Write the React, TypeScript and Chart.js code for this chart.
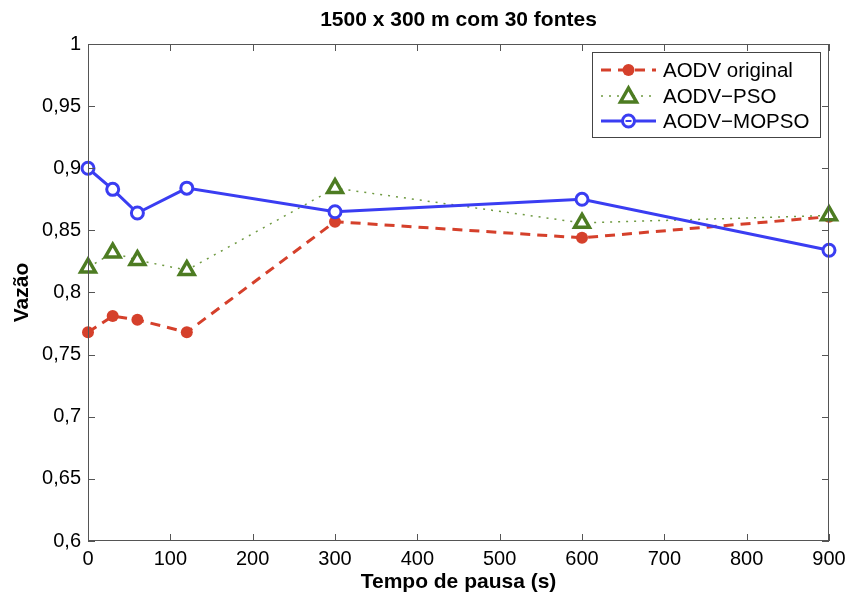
import React, { useEffect, useRef } from "react";
import { Chart, registerables } from "chart.js";

Chart.register(...registerables);

const chartTitle = "1500 x 300 m com 30 fontes";
const pauseTimes = [0, 30, 60, 120, 300, 600, 900];
const aodvOriginal = [0.768, 0.781, 0.778, 0.768, 0.857, 0.844, 0.861];
const aodvPso = [0.82, 0.832, 0.826, 0.818, 0.884, 0.856, 0.862];
const aodvMopso = [0.9, 0.883, 0.864, 0.884, 0.865, 0.875, 0.834];
const seriesNames = ["AODV original", "AODV\u2212PSO", "AODV\u2212MOPSO"];

const RED = "#d5402b";
const GREEN = "#4d7c22";
const GREEN_LINE = "#6f9a42";
const BLUE = "#3a3df2";
const FONT = "'Liberation Sans', Arial, Helvetica, sans-serif";

const toXY = (vals: number[]) => vals.map((v, i) => ({ x: pauseTimes[i], y: v }));

const framePlugin = {
  id: "frame",
  afterDraw(chart: any) {
    const { ctx, chartArea: a, scales } = chart;
    ctx.save();
    // title centred over the plot area
    ctx.fillStyle = "#000";
    ctx.font = `bold 21px ${FONT}`;
    ctx.textAlign = "center";
    ctx.textBaseline = "middle";
    ctx.fillText(chartTitle, (a.left + a.right) / 2, 20);

    ctx.strokeStyle = "#555";
    ctx.lineWidth = 1;
    ctx.strokeRect(a.left + 0.5, a.top + 0.5, a.right - a.left - 1, a.bottom - a.top - 1);
    const tl = 7;
    ctx.beginPath();
    scales.x.ticks.forEach((t: any) => {
      const px = Math.round(scales.x.getPixelForValue(t.value)) + 0.5;
      ctx.moveTo(px, a.bottom);
      ctx.lineTo(px, a.bottom - tl);
      ctx.moveTo(px, a.top);
      ctx.lineTo(px, a.top + tl);
    });
    scales.y.ticks.forEach((t: any) => {
      const py = Math.round(scales.y.getPixelForValue(t.value)) + 0.5;
      ctx.moveTo(a.left, py);
      ctx.lineTo(a.left + tl, py);
      ctx.moveTo(a.right, py);
      ctx.lineTo(a.right - tl, py);
    });
    ctx.stroke();

    // legend
    const lx = 592, ly = 52, lw = 228, lh = 85;
    ctx.fillStyle = "#fff";
    ctx.fillRect(lx, ly, lw, lh);
    ctx.strokeStyle = "#444";
    ctx.strokeRect(lx + 0.5, ly + 0.5, lw, lh);
    const rows = [ly + 18, ly + 44, ly + 69];
    const x0 = lx + 9, x1 = lx + 64, xm = (x0 + x1) / 2;
    ctx.font = `20.5px ${FONT}`;
    ctx.textBaseline = "middle";
    ctx.textAlign = "left";
    // row 1
    ctx.strokeStyle = RED;
    ctx.lineWidth = 3;
    ctx.setLineDash([10, 7]);
    ctx.beginPath();
    ctx.moveTo(x0, rows[0]);
    ctx.lineTo(x1, rows[0]);
    ctx.stroke();
    ctx.setLineDash([]);
    ctx.fillStyle = RED;
    ctx.beginPath();
    ctx.arc(xm, rows[0], 6, 0, Math.PI * 2);
    ctx.fill();
    // row 2
    ctx.strokeStyle = GREEN_LINE;
    ctx.lineWidth = 1.5;
    ctx.setLineDash([2, 6]);
    ctx.beginPath();
    ctx.moveTo(x0, rows[1]);
    ctx.lineTo(x1, rows[1]);
    ctx.stroke();
    ctx.setLineDash([]);
    ctx.strokeStyle = GREEN;
    ctx.fillStyle = "#fff";
    ctx.lineWidth = 3.5;
    ctx.beginPath();
    ctx.moveTo(xm, rows[1] - 8);
    ctx.lineTo(xm + 8, rows[1] + 6);
    ctx.lineTo(xm - 8, rows[1] + 6);
    ctx.closePath();
    ctx.fill();
    ctx.stroke();
    // row 3
    ctx.strokeStyle = BLUE;
    ctx.lineWidth = 3;
    ctx.beginPath();
    ctx.moveTo(x0, rows[2]);
    ctx.lineTo(x1, rows[2]);
    ctx.stroke();
    ctx.fillStyle = "#fff";
    ctx.beginPath();
    ctx.arc(xm, rows[2], 6, 0, Math.PI * 2);
    ctx.fill();
    ctx.stroke();
    ctx.lineWidth = 2;
    ctx.beginPath();
    ctx.moveTo(xm - 3, rows[2]);
    ctx.lineTo(xm + 3, rows[2]);
    ctx.stroke();

    ctx.fillStyle = "#000";
    seriesNames.forEach((n, i) => ctx.fillText(n, x1 + 7, rows[i] + 1));
    ctx.restore();
  },
};

export default function App() {
  const ref = useRef<HTMLCanvasElement | null>(null);
  useEffect(() => {
    document.body.style.margin = "0";
    const chart = new Chart(ref.current as HTMLCanvasElement, {
      type: "line",
      data: {
        datasets: [
          {
            label: seriesNames[2],
            data: toXY(aodvMopso),
            borderColor: BLUE,
            borderWidth: 3,
            pointStyle: "circle",
            pointRadius: 6,
            pointBorderWidth: 3,
            pointBackgroundColor: "#fff",
            pointBorderColor: BLUE,
            clip: false,
            order: 0,
          },
          {
            label: seriesNames[1],
            data: toXY(aodvPso),
            borderColor: GREEN_LINE,
            borderWidth: 1.5,
            borderDash: [2, 6],
            pointStyle: "triangle",
            pointRadius: 8.5,
            pointBorderWidth: 3.5,
            pointBackgroundColor: "#fff",
            pointBorderColor: GREEN,
            clip: false,
            order: 1,
          },
          {
            label: seriesNames[0],
            data: toXY(aodvOriginal),
            borderColor: RED,
            borderWidth: 3,
            borderDash: [10, 7],
            pointStyle: "circle",
            pointRadius: 6,
            pointBorderWidth: 0,
            pointBackgroundColor: RED,
            pointBorderColor: RED,
            clip: false,
            order: 2,
          },
        ],
      },
      options: {
        animation: false,
        responsive: false,
        maintainAspectRatio: false,
        layout: { padding: { left: 0, right: 18, top: 44, bottom: 0 } },
        plugins: {
          legend: { display: false },
          tooltip: { enabled: false },
          title: { display: false },
        },
        scales: {
          x: {
            type: "linear",
            min: 0,
            max: 900,
            ticks: {
              stepSize: 100,
              color: "#000",
              padding: 6,
              font: { family: FONT, size: 20 },
              maxRotation: 0,
            },
            grid: { drawOnChartArea: false, drawTicks: false },
            border: { display: false },
            title: {
              display: true,
              text: "Tempo de pausa (s)",
              color: "#000",
              font: { family: FONT, size: 21, weight: "bold" },
              padding: { top: 0, bottom: 4 },
            },
            afterFit: (s: any) => {
              s.height = 58;
              s.paddingLeft = 0;
              s.paddingRight = 0;
            },
          },
          y: {
            min: 0.6,
            max: 1,
            ticks: {
              stepSize: 0.05,
              color: "#000",
              padding: 7,
              font: { family: FONT, size: 20 },
              callback: (v: any) => String(Number(Number(v).toFixed(2))).replace(".", ","),
            },
            grid: { drawOnChartArea: false, drawTicks: false },
            border: { display: false },
            title: {
              display: true,
              text: "Vazão",
              color: "#000",
              font: { family: FONT, size: 21, weight: "bold" },
              padding: { top: 10, bottom: 0 },
            },
            afterFit: (s: any) => {
              s.width = 88;
              s.paddingTop = 0;
              s.paddingBottom = 0;
            },
          },
        },
      } as any,
      plugins: [framePlugin],
    });
    return () => chart.destroy();
  }, []);
  return <canvas ref={ref} width={847} height={599} style={{ display: "block" }} />;
}
